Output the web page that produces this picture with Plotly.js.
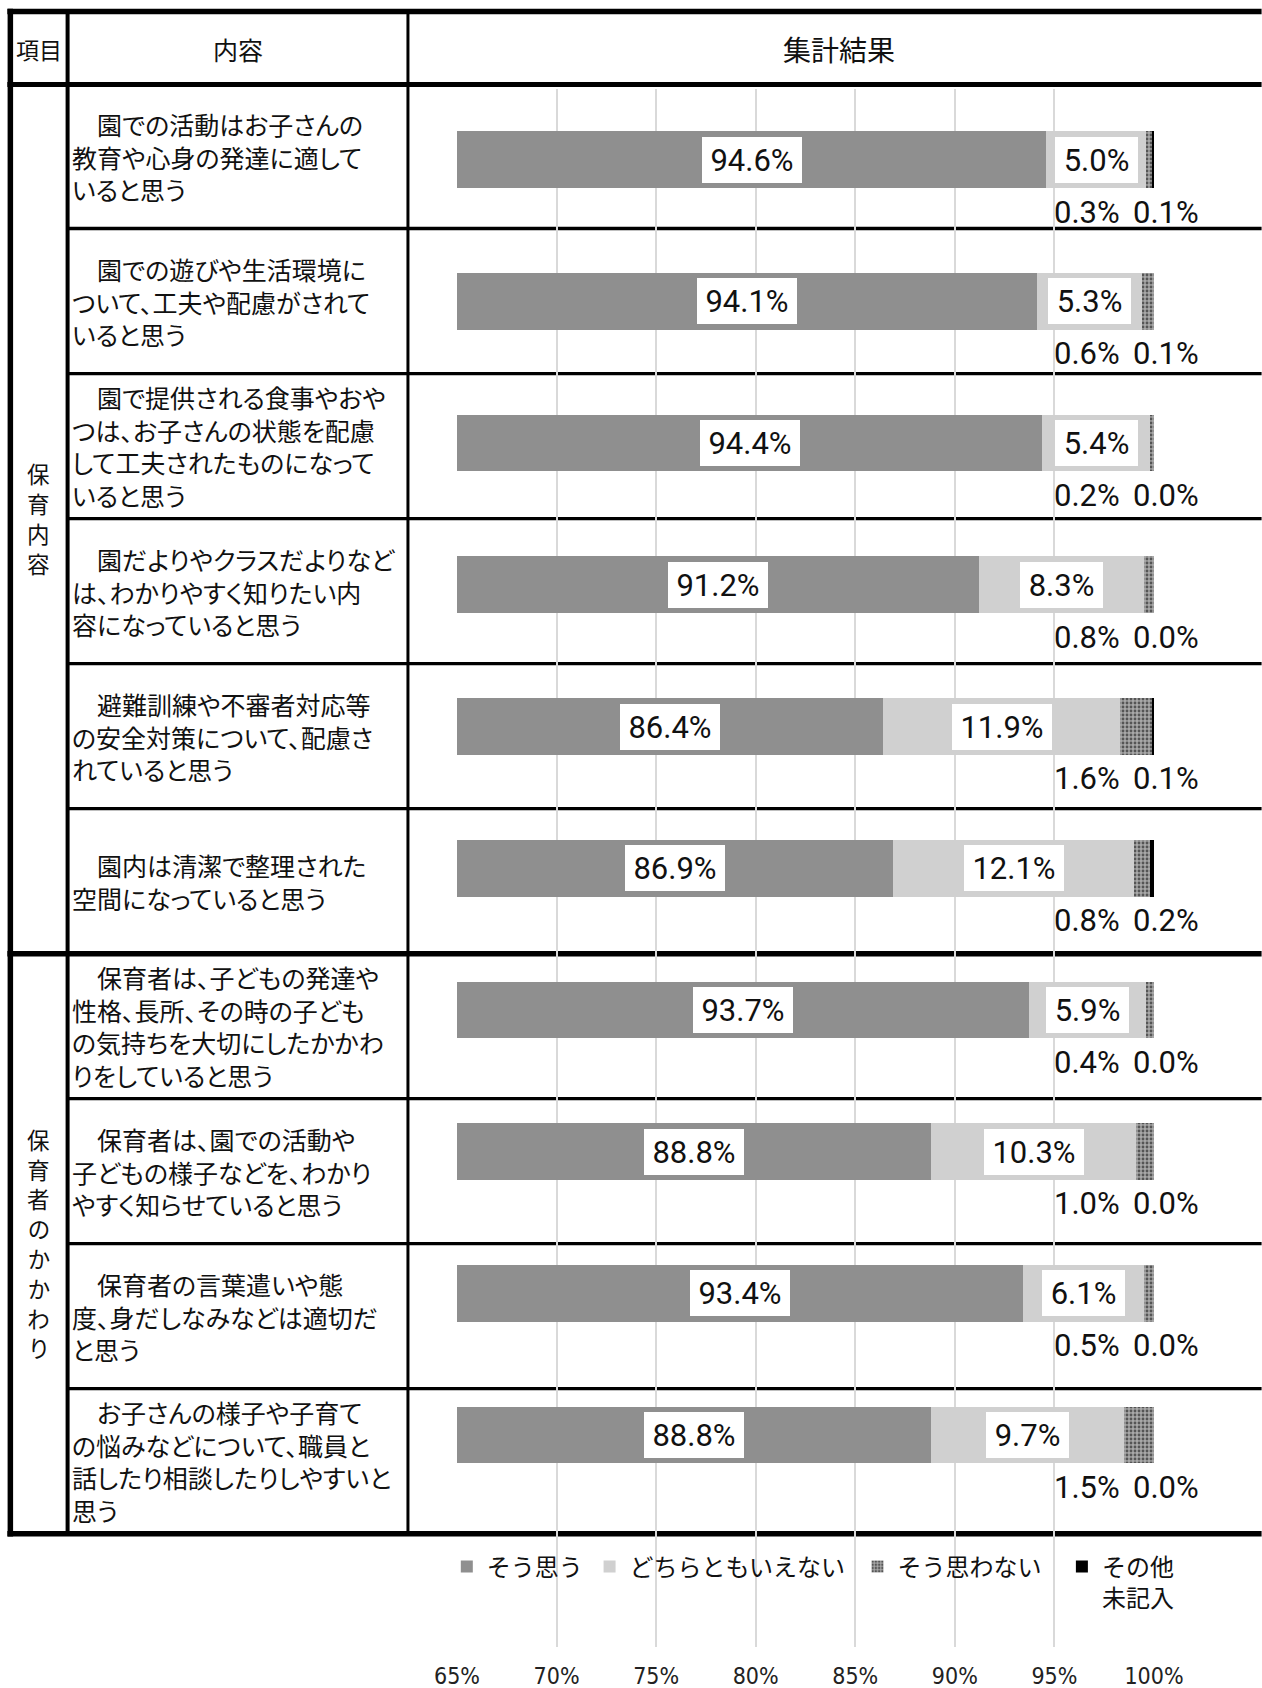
<!DOCTYPE html>
<html>
<head>
<meta charset="utf-8">
<script src="https://cdn.plot.ly/plotly-3.0.1.min.js"></script>
<style>
html,body{margin:0;padding:0;background:#fff;}
#chart{width:1262px;height:1688px;}
.annotation-text{font-feature-settings:"palt";}
</style>
</head>
<body>
<div id="chart"></div>
<script>
// ---------------- data ----------------
const categories = [
  '　園での活動はお子さんの<br>教育や心身の発達に適して<br>いると思う',
  '　園での遊びや生活環境に<br>ついて、工夫や配慮がされて<br>いると思う',
  '　園で提供される食事やおや<br>つは、お子さんの状態を配慮<br>して工夫されたものになって<br>いると思う',
  '　園だよりやクラスだよりなど<br>は、わかりやすく知りたい内<br>容になっていると思う',
  '　避難訓練や不審者対応等<br>の安全対策について、配慮さ<br>れていると思う',
  '　園内は清潔で整理された<br>空間になっていると思う',
  '　保育者は、子どもの発達や<br>性格、長所、その時の子ども<br>の気持ちを大切にしたかかわ<br>りをしていると思う',
  '　保育者は、園での活動や<br>子どもの様子などを、わかり<br>やすく知らせていると思う',
  '　保育者の言葉遣いや態<br>度、身だしなみなどは適切だ<br>と思う',
  '　お子さんの様子や子育て<br>の悩みなどについて、職員と<br>話したり相談したりしやすいと<br>思う'
];
const groupLabels = ['保育内容', '保育者のかかわり'];
const groupSizes = [6, 4];
const headers = ['項目', '内容', '集計結果'];
const seriesNames = ['そう思う', 'どちらともいえない', 'そう思わない', 'その他<br>未記入'];
const agree    = [94.6, 94.1, 94.4, 91.2, 86.4, 86.9, 93.7, 88.8, 93.4, 88.8];
const neutral  = [5.0, 5.3, 5.4, 8.3, 11.9, 12.1, 5.9, 10.3, 6.1, 9.7];
const disagree = [0.3, 0.6, 0.2, 0.8, 1.6, 0.8, 0.4, 1.0, 0.5, 1.5];
const other    = [0.1, 0.1, 0.0, 0.0, 0.1, 0.2, 0.0, 0.0, 0.0, 0.0];
const tickVals = [65, 70, 75, 80, 85, 90, 95, 100];
const tickText = ['65%', '70%', '75%', '80%', '85%', '90%', '95%', '100%'];

// ---------------- geometry ----------------
const W = 1262, H = 1688;
const ML = 456.6, MR = 107.7, MT = 88.5, MB = 41.3;
const PW = W - ML - MR, PH = H - MT - MB;
const px2x = px => (px - ML) / PW;
const py2y = py => (H - MB - py) / PH;
const xRange = [65, 100];
const yRange = [10.497, -0.4996];

const JP = 'Noto Sans CJK JP, sans-serif';
const NUM = 'Roboto, sans-serif';
const TICK = 'Liberation Sans Narrow, DejaVu Sans Condensed, sans-serif';
const INK = '#111111';

const tableTop = 11, rowTop0 = 83, rowH = 145.04;
const colLeft = 9.5, col1 = 66.8, col2 = 407.5;
const tableBottom = rowTop0 + rowH * categories.length;

const shapes = [];
function hline(y, x0, x1, w) {
  shapes.push({type: 'line', xref: 'paper', yref: 'paper', layer: 'below',
    x0: px2x(x0), x1: px2x(x1), y0: py2y(y), y1: py2y(y), line: {color: '#000', width: w}});
}
function vline(x, y0, y1, w) {
  shapes.push({type: 'line', xref: 'paper', yref: 'paper', layer: 'below',
    x0: px2x(x), x1: px2x(x), y0: py2y(y0), y1: py2y(y1), line: {color: '#000', width: w}});
}
hline(tableTop, colLeft - 3, W, 5.5);
hline(rowTop0 + 1, colLeft - 3, W, 5);
let boundary = 0;
const groupEnds = [];
groupSizes.forEach(s => { boundary += s; groupEnds.push(boundary); });
for (let k = 1; k <= categories.length; k++) {
  const y = rowTop0 + k * rowH;
  if (groupEnds.includes(k)) hline(y, colLeft - 3, W, 5.5);
  else hline(y, col1, W, 3.3);
}
vline(colLeft, tableTop - 2.75, tableBottom + 2.75, 5.5);
vline(col1, tableTop, tableBottom, 4);
vline(col2, tableTop, tableBottom, 3);

const annotations = [];
// headers
const headerY = (tableTop + rowTop0) / 2 + 1;
const headerX = [(colLeft + col1) / 2, (col1 + col2) / 2, 839];
const headerSize = [23, 25, 28];
headers.forEach((h, i) => annotations.push({xref: 'paper', yref: 'paper', x: px2x(headerX[i]), y: py2y(headerY),
  xanchor: 'center', yanchor: 'middle', text: h, showarrow: false, font: {family: JP, size: headerSize[i], color: INK}}));

// category texts (one block per row)
categories.forEach((c, i) => {
  const cy = rowTop0 + (i + 0.5) * rowH;
  annotations.push({xref: 'paper', yref: 'paper', x: px2x(71), y: py2y(cy),
    xanchor: 'left', yanchor: 'middle', align: 'left', text: c, showarrow: false, borderpad: 0, borderwidth: 0,
    font: {family: JP, size: 25, color: INK}});
});

// group labels (vertical, one character per step)
const vStep = 29.8;
let start = 0;
groupLabels.forEach((g, gi) => {
  const cy = rowTop0 + (start + groupSizes[gi] / 2) * rowH;
  start += groupSizes[gi];
  const chars = Array.from(g);
  chars.forEach((ch, k) => {
    annotations.push({xref: 'paper', yref: 'paper', x: px2x((colLeft + col1) / 2),
      y: py2y(cy + (k - (chars.length - 1) / 2) * vStep),
      xanchor: 'center', yanchor: 'middle', text: ch, showarrow: false, borderpad: 0, borderwidth: 0,
      height: vStep - 1, font: {family: JP, size: 22.5, color: INK}});
  });
});

// data labels
const ctx = document.createElement('canvas').getContext('2d');
ctx.font = '31px Roboto';
const tw = t => ctx.measureText(t).width;
const fmt = v => v.toFixed(1) + '%';
function boxLabel(x, y, t) {
  annotations.push({xref: 'x', yref: 'y', x: x, y: y, text: t, showarrow: false,
    xanchor: 'center', yanchor: 'middle', bgcolor: '#ffffff', borderwidth: 0, borderpad: 0,
    width: Math.round(tw(t) + 17), height: 46, font: {family: NUM, size: 31, color: INK}});
}
const labelDrop = 0.37;
categories.forEach((c, i) => {
  boxLabel((xRange[0] + agree[i]) / 2, i, fmt(agree[i]));
  boxLabel(agree[i] + neutral[i] / 2, i, fmt(neutral[i]));
  annotations.push({xref: 'x', yref: 'y', x: 98.3, y: i + labelDrop, text: fmt(disagree[i]), showarrow: false,
    xanchor: 'right', yanchor: 'middle', borderwidth: 0, borderpad: 0, font: {family: NUM, size: 31, color: INK}});
  annotations.push({xref: 'x', yref: 'y', x: 98.95, y: i + labelDrop, text: fmt(other[i]), showarrow: false,
    xanchor: 'left', yanchor: 'middle', borderwidth: 0, borderpad: 0, font: {family: NUM, size: 31, color: INK}});
});

// ---------------- traces ----------------
const barW = 0.4;
const legendIds = ['legend', 'legend2', 'legend3', 'legend4'];
const traces = [
  {name: seriesNames[0], x: agree, marker: {color: '#8f8f8f'}},
  {name: seriesNames[1], x: neutral, marker: {color: '#d0d0d0'}},
  {name: seriesNames[2], x: disagree, marker: {color: '#9a9a9a',
     pattern: {shape: '.', fgcolor: '#555555', bgcolor: '#a8a8a8', size: 4, solidity: 0.4}}},
  {name: seriesNames[3], x: other, marker: {color: '#000000'}}
].map((t, i) => Object.assign({type: 'bar', orientation: 'h', y: categories, width: barW,
  hoverinfo: 'skip', textposition: 'none', legend: legendIds[i]}, t,
  {marker: Object.assign({line: {width: 0}}, t.marker)}));

// legend entries placed like the original (one legend box per entry)
const legendLeftPx = [446.4, 589.3, 857.5, 1062.1];
const legendTopPx = 1544;

const layout = {
  width: W, height: H,
  margin: {l: ML, r: MR, t: MT, b: MB, pad: 0},
  paper_bgcolor: '#ffffff', plot_bgcolor: 'rgba(0,0,0,0)',
  barmode: 'stack', bargap: 0,
  showlegend: true,
  xaxis: {range: xRange, tickvals: tickVals, ticktext: tickText, showgrid: true, gridcolor: '#d9d9d9', gridwidth: 2,
    zeroline: false, showline: false, ticks: '', automargin: false, fixedrange: true, ticklabelstandoff: 13,
    tickfont: {family: TICK, size: 23, color: '#222222'}},
  yaxis: {type: 'category', categoryorder: 'array', categoryarray: categories, range: yRange,
    showgrid: false, zeroline: false, showline: false, showticklabels: false, ticks: '', automargin: false, fixedrange: true},
  shapes: shapes,
  annotations: annotations,
  hovermode: false
};
legendIds.forEach((id, i) => {
  layout[id] = {orientation: 'h', x: px2x(legendLeftPx[i]), xanchor: 'left', y: py2y(legendTopPx), yanchor: 'top',
    bgcolor: 'rgba(0,0,0,0)', borderwidth: 0, valign: 'top',
    font: {family: JP, size: 24, color: INK}};
});

Plotly.newPlot('chart', traces, layout, {displayModeBar: false, staticPlot: true});
</script>
</body>
</html>
